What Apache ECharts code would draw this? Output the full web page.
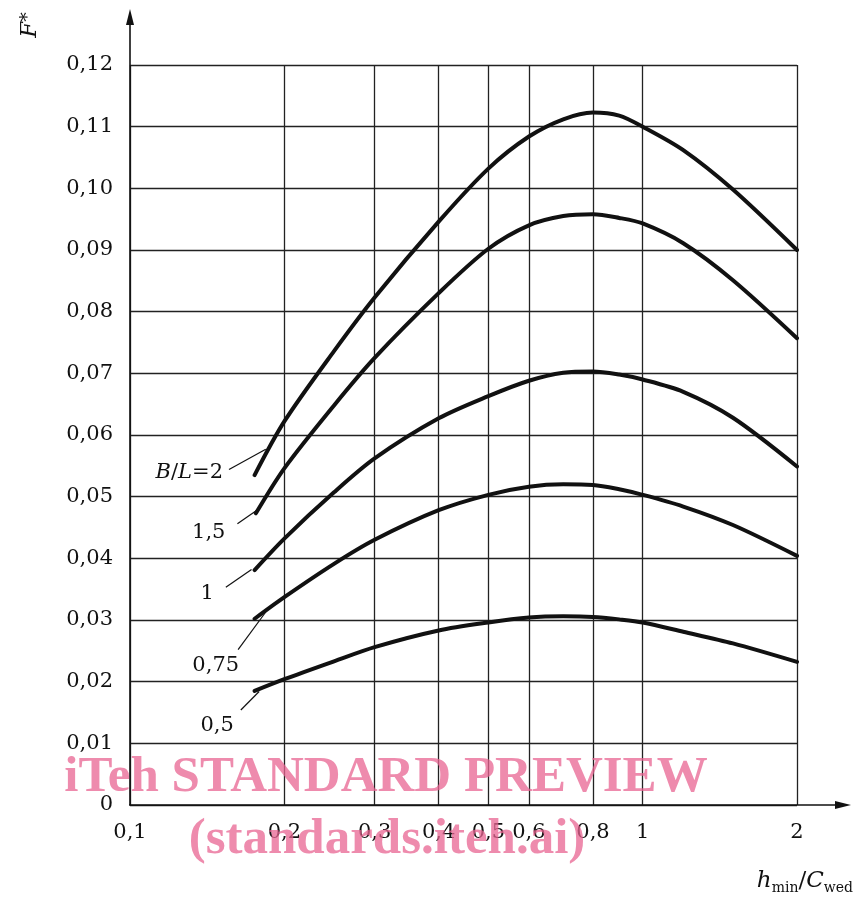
<!DOCTYPE html>
<html><head><meta charset="utf-8">
<script src="https://cdn.jsdelivr.net/npm/echarts@6/dist/echarts.min.js"></script>
<style>html,body{margin:0;padding:0;background:#fff}#c{width:854px;height:897px}</style>
</head><body><div id="c"></div>
<script>
// ---- data ----
const xTicks = [0.1, 0.2, 0.3, 0.4, 0.5, 0.6, 0.8, 1, 2];
const xTickLabels = ['0,1', '0,2', '0,3', '0,4', '0,5', '0,6', '0,8', '1', '2'];
const yTickLabels = ['0', '0,01', '0,02', '0,03', '0,04', '0,05', '0,06', '0,07', '0,08', '0,09', '0,10', '0,11', '0,12'];

const xBL2  = [0.175, 0.2, 0.25, 0.3, 0.4, 0.5, 0.6, 0.7, 0.8, 0.9, 1, 1.2, 1.5, 2];
const yBL2  = [0.0535, 0.0622, 0.0736, 0.0823, 0.0946, 0.1032, 0.1084, 0.1112, 0.1123, 0.1118, 0.1100, 0.1062, 0.0998, 0.0900];
const xBL15 = [0.176, 0.2, 0.25, 0.3, 0.4, 0.5, 0.6, 0.7, 0.8, 0.9, 1, 1.2, 1.5, 2];
const yBL15 = [0.0473, 0.0546, 0.0648, 0.0725, 0.0830, 0.0902, 0.0940, 0.0955, 0.0958, 0.0952, 0.0943, 0.0911, 0.0851, 0.0757];
const xBL1  = [0.175, 0.2, 0.25, 0.3, 0.4, 0.5, 0.6, 0.7, 0.8, 0.9, 1, 1.2, 1.5, 2];
const yBL1  = [0.0381, 0.0432, 0.0507, 0.0562, 0.0627, 0.0663, 0.0688, 0.0701, 0.0703, 0.0698, 0.0690, 0.0670, 0.0628, 0.0549];
const xBL075 = [0.175, 0.2, 0.25, 0.3, 0.4, 0.5, 0.6, 0.7, 0.8, 0.9, 1, 1.2, 1.5, 2];
const yBL075 = [0.0302, 0.0337, 0.0391, 0.0430, 0.0478, 0.0503, 0.0516, 0.0520, 0.0519, 0.0512, 0.0503, 0.0484, 0.0454, 0.0404];
const xBL05 = [0.175, 0.2, 0.25, 0.3, 0.4, 0.5, 0.6, 0.7, 0.8, 0.9, 1, 1.2, 1.5, 2];
const yBL05 = [0.0185, 0.0204, 0.0233, 0.0256, 0.0283, 0.0296, 0.0304, 0.0306, 0.0305, 0.0301, 0.0296, 0.0281, 0.0262, 0.0232];

const curveNames = ['B/L=2', '1,5', '1', '0,75', '0,5'];
const curveLabels = ['{i|B}/{i|L}=2', '1,5', '1', '0,75', '0,5'];
const leaderStart = [[0.156, 0.0544], [0.162, 0.0456], [0.1538, 0.0353], [0.1625, 0.0252], [0.1645, 0.0154]];
const leaderEnd   = [[0.184, 0.0577], [0.1768, 0.0478], [0.1726, 0.0382], [0.184, 0.0313], [0.1786, 0.0184]];
const labelOffsets = [[-6, 3], [-12, 9], [-12, 6], [1, 16], [-7, 16]];

// ---- chart ----
const FONT = 'DejaVu Serif';
const lg = v => Math.log10(v);
const curves = [[xBL2, yBL2], [xBL15, yBL15], [xBL1, yBL1], [xBL075, yBL075], [xBL05, yBL05]];
const xTickPos = xTicks.map(lg);

const series = [];
curves.forEach((c, k) => {
  series.push({
    name: curveNames[k], type: 'line', smooth: 0.3, symbol: 'none',
    lineStyle: { color: '#111', width: 4, cap: 'round', join: 'round' },
    data: c[0].map((x, i) => [lg(x), c[1][i]]), z: 5
  });
  series.push({
    type: 'line', symbol: 'none', silent: true,
    lineStyle: { color: '#111', width: 1.2 },
    data: [[lg(leaderStart[k][0]), leaderStart[k][1]], [lg(leaderEnd[k][0]), leaderEnd[k][1]]], z: 4
  });
});
series.push({
  type: 'scatter', symbolSize: 0, silent: true,
  itemStyle: { opacity: 1 },
  data: leaderStart.map((p, k) => ({
    value: [lg(p[0]), p[1]],
    label: {
      show: true, formatter: curveLabels[k], position: labelOffsets[k],
      align: 'right', verticalAlign: 'middle', opacity: 1,
      color: '#111', fontFamily: FONT, fontSize: 21,
      rich: { i: { fontStyle: 'italic', fontFamily: FONT, fontSize: 21, color: '#111' } }
    }
  }))
});

const chart = echarts.init(document.getElementById('c'));
chart.setOption({
  animation: false,
  backgroundColor: '#fff',
  grid: { left: 130, right: 57, top: 65, bottom: 92, containLabel: false },
  xAxis: {
    type: 'value', min: lg(0.1), max: lg(2),
    axisLine: { show: false },
    axisTick: { show: false, customValues: xTickPos },
    axisLabel: {
      customValues: xTickPos, margin: 17, color: '#111', fontFamily: FONT, fontSize: 21,
      formatter: v => { const i = xTickPos.findIndex(t => Math.abs(t - v) < 1e-6); return i >= 0 ? xTickLabels[i] : ''; }
    },
    splitLine: { show: true, lineStyle: { color: '#222', width: 1.3 } }
  },
  yAxis: {
    type: 'value', min: 0, max: 0.12, interval: 0.01,
    axisLine: { show: false }, axisTick: { show: false },
    axisLabel: {
      margin: 17, color: '#111', fontFamily: FONT, fontSize: 21,
      formatter: v => yTickLabels[Math.round(v / 0.01)]
    },
    splitLine: { show: true, lineStyle: { color: '#222', width: 1.3 } }
  },
  series: series,
  graphic: [
    { type: 'line', shape: { x1: 130, y1: 805, x2: 130, y2: 22 }, style: { stroke: '#111', lineWidth: 1.6 }, z: 10 },
    { type: 'polygon', shape: { points: [[130, 9], [126, 25], [134, 25]] }, style: { fill: '#111' }, z: 10 },
    { type: 'line', shape: { x1: 129, y1: 805, x2: 838, y2: 805 }, style: { stroke: '#111', lineWidth: 1.6 }, z: 10 },
    { type: 'polygon', shape: { points: [[851, 805], [835, 801], [835, 809]] }, style: { fill: '#111' }, z: 10 },
    { type: 'text', x: 30, y: 25, rotation: Math.PI / 2, z: 10,
      style: { text: '{i|F}{s|*}', align: 'center', verticalAlign: 'middle',
        rich: { i: { fontStyle: 'italic', fontFamily: FONT, fontSize: 23, fill: '#111' },
                s: { fontFamily: FONT, fontSize: 19, fill: '#111', verticalAlign: 'top' } } } },
    { type: 'text', x: 853, y: 881, z: 10,
      style: { text: '{i|h}{s|min}{n|/}{i|C}{s|wed}', align: 'right', verticalAlign: 'middle',
        rich: { i: { fontStyle: 'italic', fontFamily: FONT, fontSize: 23, fill: '#111', lineHeight: 28 },
                n: { fontFamily: FONT, fontSize: 23, fill: '#111', lineHeight: 28 },
                s: { fontFamily: FONT, fontSize: 14, fill: '#111', verticalAlign: 'bottom', lineHeight: 20 } } } },
    { type: 'text', x: 386, y: 778, z: 20,
      style: { text: 'iTeh STANDARD PREVIEW', align: 'center', verticalAlign: 'middle',
        font: 'bold 51px "Liberation Serif"', fill: 'rgba(232,100,145,0.75)' } },
    { type: 'text', x: 387, y: 840, z: 20,
      style: { text: '(standards.iteh.ai)', align: 'center', verticalAlign: 'middle',
        font: 'bold 51px "Liberation Serif"', fill: 'rgba(232,100,145,0.75)' } }
  ]
});
</script></body></html>
